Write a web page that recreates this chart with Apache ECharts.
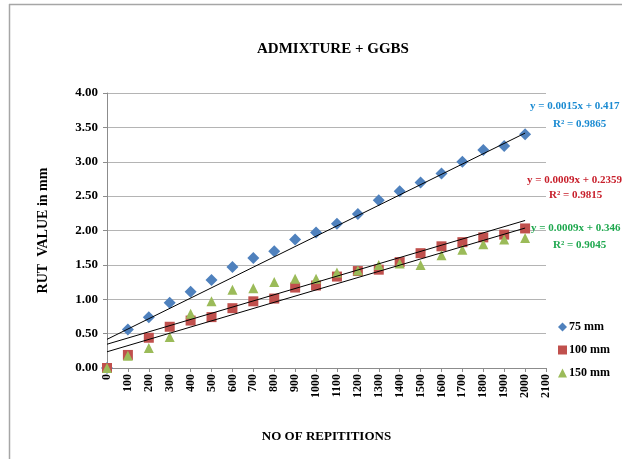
<!DOCTYPE html>
<html>
<head>
<meta charset="utf-8">
<title>ADMIXTURE + GGBS</title>
<script src="https://cdn.jsdelivr.net/npm/echarts@6/dist/echarts.min.js"></script>
<style>
  html, body { margin: 0; padding: 0; background: #ffffff; }
  #chart { width: 622px; height: 459px; }
</style>
</head>
<body>
<div id="chart"></div>
<script>
// repetitions on x axis
const repetitions = [0, 100, 200, 300, 400, 500, 600, 700, 800, 900, 1000,
  1100, 1200, 1300, 1400, 1500, 1600, 1700, 1800, 1900, 2000];

// rut values (mm)
const rut75 = [0, 0.56, 0.74, 0.95, 1.11, 1.28, 1.47, 1.60, 1.70, 1.87, 1.97,
  2.10, 2.24, 2.44, 2.57, 2.70, 2.83, 3.00, 3.17, 3.23, 3.40];
const rut100 = [0, 0.19, 0.44, 0.60, 0.69, 0.74, 0.87, 0.97, 1.01, 1.17, 1.20,
  1.33, 1.41, 1.43, 1.54, 1.67, 1.77, 1.83, 1.90, 1.94, 2.03];
const rut150 = [0, 0.18, 0.29, 0.45, 0.79, 0.97, 1.14, 1.16, 1.25, 1.30, 1.30,
  1.39, 1.42, 1.50, 1.52, 1.50, 1.64, 1.72, 1.80, 1.87, 1.89];

const seriesNames = ['75 mm', '100 mm', '150 mm'];
// linear trendlines as printed on the chart
const trendSlopes = [0.0015, 0.0009, 0.0009];
const trendIntercepts = [0.417, 0.2359, 0.346];
const trendEquations = ['y = 0.0015x + 0.417', 'y = 0.0009x + 0.2359', 'y = 0.0009x + 0.346'];
const trendR2 = ['R\u00b2 = 0.9865', 'R\u00b2 = 0.9815', 'R\u00b2 = 0.9045'];

const COLORS = {
  S75: '#4f81bd',
  S100: '#c0504d',
  S150: '#9bbb59',
  EQ: ['#1b8bd2', '#c8202c', '#1fa84f'],
  TEXT: '#000000',
  GRID: '#b4b4b4',
  AXIS: '#8c8c8c',
  FRAME: '#a6a6a6',
};
const FONT = '"Liberation Serif", "DejaVu Serif", serif';

const toPoints = (ys) => repetitions.map((x, i) => [x, ys[i]]);
const trendPoints = (k) => {
  const x0 = repetitions[0];
  const x1 = repetitions[repetitions.length - 1];
  return [[x0, trendSlopes[k] * x0 + trendIntercepts[k]], [x1, trendSlopes[k] * x1 + trendIntercepts[k]]];
};

const scatter = (name, data, symbol, size, color) => ({
  name: name,
  type: 'scatter',
  data: data,
  symbol: symbol,
  symbolSize: size,
  itemStyle: { color: color, opacity: 1 },
  z: 3,
});

const trend = (k) => ({
  name: 'trend' + k,
  type: 'line',
  data: trendPoints(k),
  showSymbol: false,
  silent: true,
  lineStyle: { color: '#000000', width: 1 },
  z: 4,
});

// equation labels sit at the right edge, partly cut off like the original
const eqPos = [
  { x: 530, y: 101, rx: 553, ry: 119 },
  { x: 527, y: 175, rx: 549, ry: 190 },
  { x: 531, y: 223, rx: 553, ry: 240 },
];
const eqGraphics = [];
eqPos.forEach((p, k) => {
  eqGraphics.push({
    type: 'text', left: p.x, top: p.y, z: 10,
    style: { text: trendEquations[k], fill: COLORS.EQ[k], font: 'bold 11px ' + FONT },
  });
  eqGraphics.push({
    type: 'text', left: p.rx, top: p.ry, z: 10,
    style: { text: trendR2[k], fill: COLORS.EQ[k], font: 'bold 11px ' + FONT },
  });
});

const myChart = echarts.init(document.getElementById('chart'), null, { renderer: 'canvas' });

myChart.setOption({
  animation: false,
  backgroundColor: '#ffffff',
  title: {
    text: 'ADMIXTURE + GGBS',
    left: 252,
    top: 37,
    textStyle: { color: COLORS.TEXT, fontSize: 15, fontWeight: 'bold', fontFamily: FONT },
  },
  legend: {
    data: seriesNames,
    orient: 'vertical',
    left: 553,
    top: 316,
    itemWidth: 9,
    itemHeight: 9,
    itemGap: 11,
    textStyle: { color: COLORS.TEXT, fontSize: 12, fontWeight: 'bold', fontFamily: FONT, padding: [0, 0, 0, -3] },
  },
  grid: { left: 107, right: 76, top: 93, bottom: 91, containLabel: false },
  xAxis: {
    type: 'value',
    min: 0,
    max: 2100,
    interval: 100,
    name: 'NO OF REPITITIONS',
    nameLocation: 'middle',
    nameGap: 62,
    nameTextStyle: { color: COLORS.TEXT, fontSize: 13, fontWeight: 'bold', fontFamily: FONT },
    axisLine: { show: true, lineStyle: { color: COLORS.AXIS, width: 1 } },
    axisTick: { show: true, length: 4, lineStyle: { color: COLORS.AXIS } },
    splitLine: { show: false },
    axisLabel: {
      rotate: 90,
      margin: 6,
      color: COLORS.TEXT,
      fontSize: 12,
      fontWeight: 'bold',
      fontFamily: FONT,
      showMinLabel: true,
      showMaxLabel: true,
      formatter: (v) => String(v),
    },
  },
  yAxis: {
    type: 'value',
    min: 0,
    max: 4,
    interval: 0.5,
    name: 'RUT  VALUE in mm',
    nameLocation: 'middle',
    nameGap: 57,
    nameTextStyle: { color: COLORS.TEXT, fontSize: 14, fontWeight: 'bold', fontFamily: FONT },
    axisLine: { show: true, lineStyle: { color: COLORS.AXIS, width: 1 } },
    axisTick: { show: true, length: 4, lineStyle: { color: COLORS.AXIS } },
    splitLine: { show: true, lineStyle: { color: COLORS.GRID, width: 1 } },
    axisLabel: {
      margin: 9,
      color: COLORS.TEXT,
      fontSize: 13,
      fontWeight: 'bold',
      fontFamily: FONT,
      formatter: (v) => v.toFixed(2),
    },
  },
  graphic: [
    { type: 'line', shape: { x1: 9, y1: 4.5, x2: 622, y2: 4.5 }, style: { stroke: COLORS.FRAME, lineWidth: 1.5 }, silent: true },
    { type: 'line', shape: { x1: 9.5, y1: 4, x2: 9.5, y2: 459 }, style: { stroke: COLORS.FRAME, lineWidth: 1.5 }, silent: true },
  ].concat(eqGraphics),
  series: [
    scatter(seriesNames[0], toPoints(rut75), 'diamond', 12, COLORS.S75),
    scatter(seriesNames[1], toPoints(rut100), 'rect', 10, COLORS.S100),
    scatter(seriesNames[2], toPoints(rut150), 'triangle', 10, COLORS.S150),
    trend(0),
    trend(1),
    trend(2),
  ],
});
</script>
</body>
</html>
